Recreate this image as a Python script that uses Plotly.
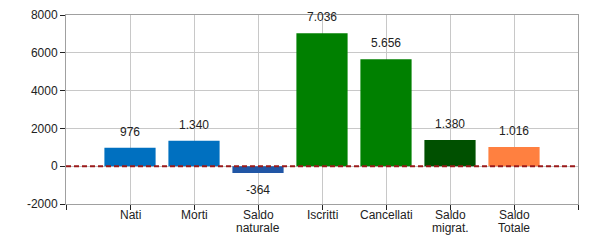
import plotly.graph_objects as go

categories = ["Nati", "Morti", "Saldo\nnaturale", "Iscritti", "Cancellati", "Saldo\nmigrat.", "Saldo\nTotale"]
values = [976, 1340, -364, 7036, 5656, 1380, 1016]
colors = ["#0070C0", "#0070C0", "#2156A5", "#008000", "#008000", "#005000", "#FF8040"]
positions = [1, 2, 3, 4, 5, 6, 7]
ytick_vals = [-2000, 0, 2000, 4000, 6000, 8000]

FONT = "Liberation Sans, Arial"

def fmt(v):
    return f"{v:,}".replace(",", ".")

fig = go.Figure()
fig.add_trace(go.Bar(x=positions, y=values, marker=dict(color=colors, line=dict(width=0)),
                     width=0.8, hoverinfo="skip"))

fig.add_shape(type="line", xref="paper", yref="y", x0=0, x1=1, y0=0, y1=0,
              line=dict(color="#9A1A1A", width=2, dash="5px,3px"))

for p, v in zip(positions, values):
    fig.add_annotation(x=p, y=v, text=fmt(v), showarrow=False,
                       yanchor="bottom" if v >= 0 else "top",
                       yshift=7 if v >= 0 else -8,
                       font=dict(family=FONT, size=12, color="#222222"))

# category labels (one annotation per text line for tight line spacing)
for p, cat in zip(positions, categories):
    for i, line in enumerate(cat.split("\n")):
        fig.add_annotation(x=p, xref="x", y=0, yref="paper", text=line, showarrow=False,
                           yanchor="middle", yshift=-11 - 13 * i,
                           font=dict(family=FONT, size=12, color="#222222"))

fig.update_layout(
    width=600, height=250,
    margin=dict(l=66, r=22, t=15, b=46, autoexpand=False),
    paper_bgcolor="white", plot_bgcolor="white",
    showlegend=False,
    font=dict(family=FONT, size=12, color="#222222"),
    xaxis=dict(range=[0, 8], tickmode="array", tickvals=[0] + positions + [8],
               ticktext=[""] * 9,
               showgrid=True, gridcolor="#C8C8C8", gridwidth=1,
               showline=True, linecolor="#A0A0A0", linewidth=1, mirror=True,
               ticks="outside", ticklen=5, tickcolor="#222222",
               zeroline=False, fixedrange=True, automargin=False),
    yaxis=dict(range=[-2000, 8000], tickmode="array", tickvals=ytick_vals,
               ticktext=[str(v) for v in ytick_vals],
               showgrid=True, gridcolor="#C8C8C8", gridwidth=1,
               showline=True, linecolor="#A0A0A0", linewidth=1, mirror=True,
               ticks="outside", ticklen=5, tickcolor="#222222",
               zeroline=False, fixedrange=True, automargin=False,
               tickfont=dict(size=12)),
)

fig.write_html("out.html")
